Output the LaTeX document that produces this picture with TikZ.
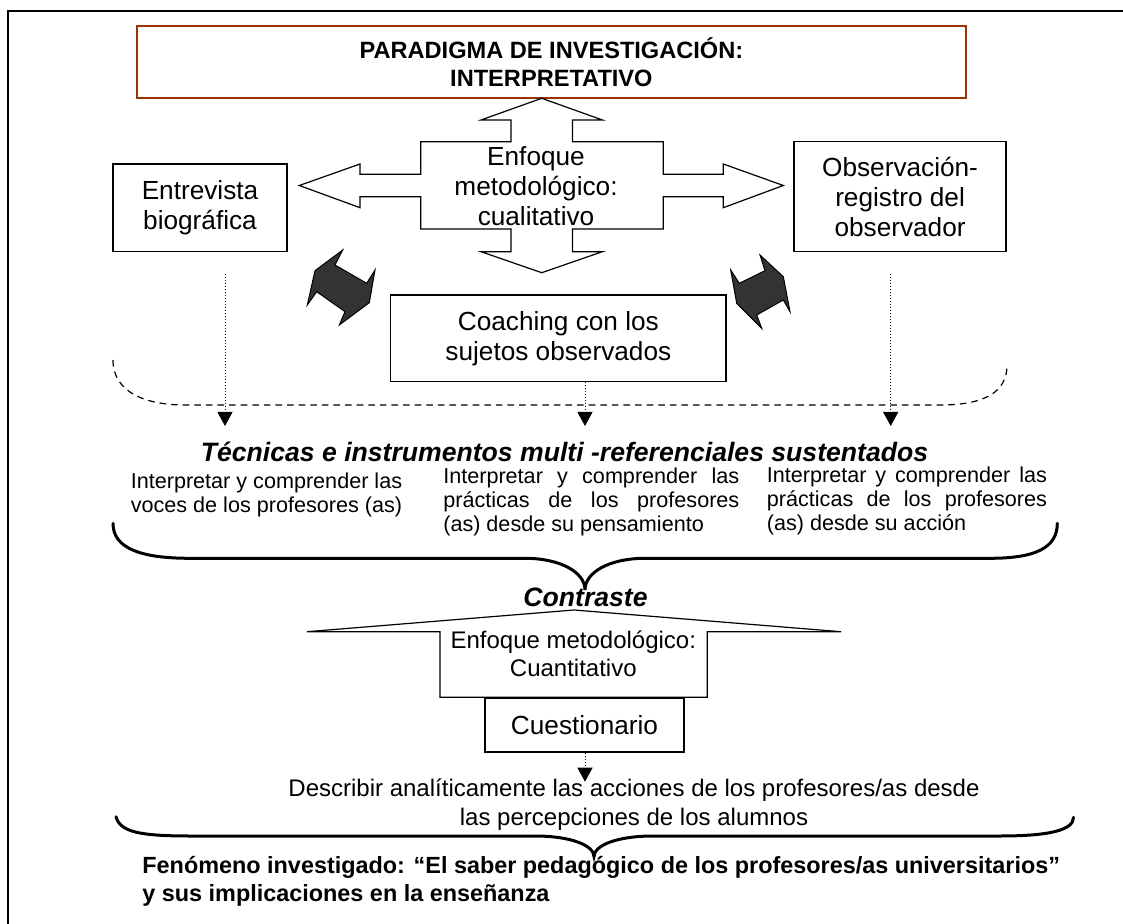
\documentclass[tikz,border=0pt]{standalone}
\usepackage{fontspec}
\setmainfont{Liberation Sans}
\usepackage{tikz}
\usetikzlibrary{arrows.meta}

\begin{document}
\begin{tikzpicture}[x=0.5pt, y=-0.5pt,
    every node/.style={inner sep=0pt},
    boxnode/.style={draw, line width=0.75pt, align=center, font=\fontsize{13.1}{15}\selectfont},
    shapeline/.style={line width=0.6pt, line join=miter, fill=white},
    darkarrow/.style={draw=black, line width=0.5pt, fill=darkfill, line join=miter},
    smalltext/.style={align=left, font=\fontsize{10.8}{12}\selectfont},
    dotarrow/.style={line width=0.5pt, dash pattern=on 0.5pt off 1pt, -{Triangle[length=7pt,width=7.5pt]}},
    bracket/.style={line width=1.5pt, line cap=round}]
    % Define colors
    \definecolor{paradigmaline}{RGB}{153,51,0}
    \definecolor{darkfill}{RGB}{51,51,51}

    \useasboundingbox (0,0) rectangle (1123,924);

    % Outer frame (runs off the page on the right and at the bottom)
    \draw[line width=0.75pt] (8,980) -- (8,11) -- (1180,11);

    % Paradigm header
    \node[draw=paradigmaline, line width=0.8pt, align=center, minimum width=414.6pt, minimum height=36pt,
          font=\bfseries\fontsize{11.8}{13.85}\selectfont] (paradigma) at (551.4,62)
          {PARADIGMA DE INVESTIGACIÓN:\\INTERPRETATIVO};

    % Four-way arrow - qualitative approach
    \draw[shapeline] (541.7,98.3) -- (602.4,120) -- (572.4,120) -- (572.4,141.7) -- (663.3,141.7)
        -- (663.3,174.3) -- (723.3,174.3) -- (723.3,164) -- (783.3,185.5) -- (723.3,207.7)
        -- (723.3,196.7) -- (663.3,196.7) -- (663.3,229) -- (572.4,229) -- (572.4,251.7)
        -- (602.4,251.7) -- (541.7,272.7) -- (481,251.7) -- (511,251.7) -- (511,229)
        -- (420.7,229) -- (420.7,196.7) -- (360,196.7) -- (360,207.7) -- (299.3,185.5)
        -- (360,164) -- (360,174.3) -- (420.7,174.3) -- (420.7,141.7) -- (511,141.7)
        -- (511,120) -- (481,120) -- cycle;
    \node[align=center, font=\fontsize{13.1}{15}\selectfont] (cualitativo) at (536,186)
        {Enfoque\\metodológico:\\cualitativo};

    % Side boxes
    \node[boxnode, minimum width=87.1pt, minimum height=43.85pt] (entrevista) at (200,207.85)
        {Entrevista\\biográfica};
    \node[boxnode, minimum width=105.95pt, minimum height=55pt] (observacion) at (900.05,196.7)
        {Observación-\\registro del\\observador};
    \node[boxnode, minimum width=167.65pt, minimum height=43.35pt] (coaching) at (558.35,338.35)
        {Coaching con los\\sujetos observados};

    % Dark double arrows
    \draw[darkarrow] (342.7,250) -- (335,265) -- (366.7,283.3) -- (375,270) -- (369.3,302.7)
        -- (339.3,325) -- (345,311.7) -- (316.7,291.7) -- (307.3,305) -- (315,270.7) -- cycle;
    \draw[darkarrow] (760,255) -- (783.3,276.7) -- (790,311.7) -- (783.3,300) -- (756.7,315)
        -- (761.7,328.3) -- (736.7,303.3) -- (730.7,270) -- (739.3,283.3) -- (765,270.7) -- cycle;

    % Dashed grouping line
    \draw[line width=0.6pt, dash pattern=on 3.3pt off 2.5pt]
        (113,360) .. controls (113,392) and (145,405) .. (185,405) -- (940,405)
        .. controls (985,405) and (1007,392) .. (1007,365);

    % Dotted arrows down to the techniques
    \coordinate (tipL) at (225,426);
    \coordinate (tipM) at (585,426);
    \coordinate (tipR) at (890.7,426);
    \draw[dotarrow] (entrevista.south -| tipL) ++(0,21.6) -- (tipL);
    \draw[dotarrow] (coaching.south -| tipM) -- (tipM);
    \draw[dotarrow] (observacion.south -| tipR) ++(0,21.6) -- (tipR);

    % Techniques and their purposes
    \node[anchor=base, font=\bfseries\itshape\fontsize{13.3}{15}\selectfont] (tecnicas) at (564.5,461.7)
        {Técnicas e instrumentos multi -referenciales sustentados};
    \node[smalltext, anchor=base west] (voces) at (130.4,512.3)
        {Interpretar y comprender las\\voces de los profesores (as)};
    \node[smalltext, anchor=base west] (pensamiento) at (442.9,531)
        {\makebox[148pt][s]{Interpretar y comprender las}\\\makebox[148pt][s]{prácticas de los profesores}\\(as) desde su pensamiento};
    \node[smalltext, anchor=base west] (accion) at (766.5,530)
        {\makebox[140pt][s]{Interpretar y comprender las}\\\makebox[140pt][s]{prácticas de los profesores}\\(as) desde su acción};

    % Upper brace
    \draw[bracket] (113,523.3) .. controls (113,548) and (140,558.3) .. (190,558.3) -- (525,558.3)
        .. controls (560,558.3) and (585,572) .. (585,590) .. controls (585,572) and (610,558.3) .. (645,558.3)
        -- (990,558.3) .. controls (1035,558.3) and (1057.3,548) .. (1057.3,523.3);

    % Contrast with the quantitative approach
    \node[anchor=base, font=\bfseries\itshape\fontsize{13.3}{15}\selectfont] (contraste) at (585.5,606.7) {Contraste};
    \draw[shapeline] (307,631.7) -- (574,610) -- (841,631.7) -- (707.2,631.7) -- (707.2,697.3)
        -- (440,697.3) -- (440,631.7) -- cycle;
    \node[anchor=base, align=center, font=\fontsize{12}{14.2}\selectfont] (cuantitativo) at (573.3,676.7)
        {Enfoque metodológico:\\Cuantitativo};
    \node[boxnode, minimum width=99.5pt, minimum height=27pt] (cuestionario) at (584.5,725) {Cuestionario};

    \coordinate (tipQ) at (585,781.7);
    \draw[dotarrow] (cuestionario.south -| tipQ) -- (tipQ);
    \node[anchor=base, align=center, font=\fontsize{12}{14.15}\selectfont] (describir) at (634,825)
        {Describir analíticamente las acciones de los profesores/as desde\\las percepciones de los alumnos};

    % Lower brace
    \draw[bracket] (116,816.7) .. controls (120,832) and (140,836) .. (190,836) -- (535,836)
        .. controls (570,836) and (594,845) .. (594,856.7) .. controls (594,845) and (618,836) .. (653,836)
        -- (1000,836) .. controls (1050,836) and (1073.5,830) .. (1073.5,817.3);

    % Phenomenon under study
    \node[anchor=base west, align=left, font=\bfseries\fontsize{11.7}{14.2}\selectfont] (fenomeno) at (142,901.7)
        {Fenómeno investigado: “El saber pedagógico de los profesores/as universitarios”\\y sus implicaciones en la enseñanza};
\end{tikzpicture}
\end{document}
